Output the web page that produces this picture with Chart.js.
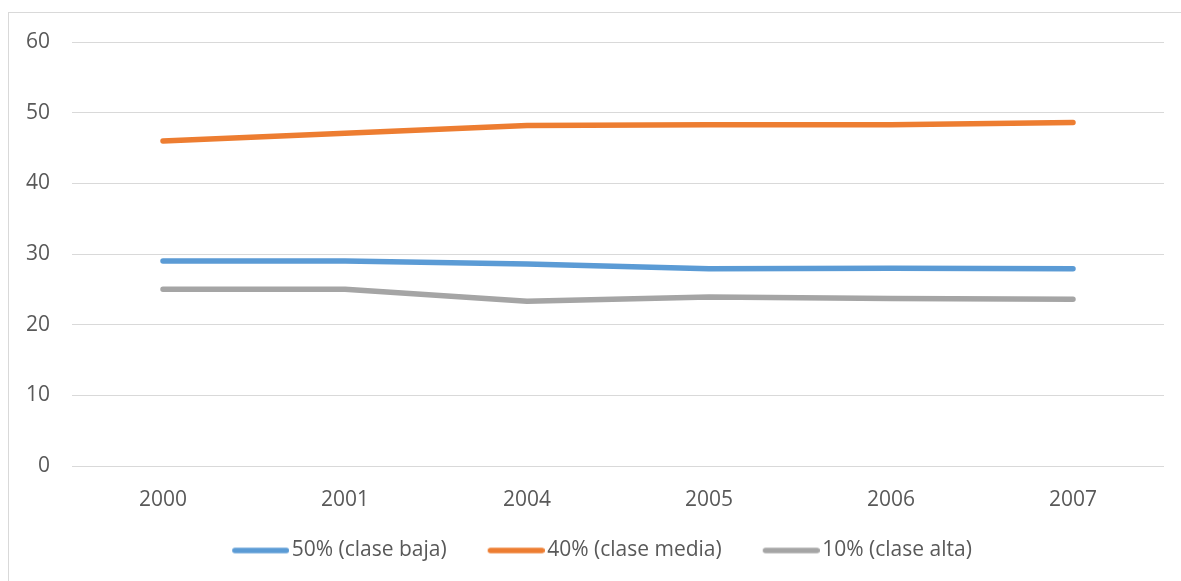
<!DOCTYPE html>
<html>
<head>
<meta charset="utf-8">
<script src="https://cdn.jsdelivr.net/npm/chart.js@4/dist/chart.umd.min.js"></script>
<style>
  html, body { margin: 0; padding: 0; background: #ffffff; overflow: hidden; }
  body { width: 1181px; height: 581px; position: relative; }
  #frame {
    position: absolute; left: 8px; top: 12px;
    width: 1200px; height: 575px;
    border: 1px solid #d9d9d9;
    background: #ffffff;
  }
  #chart { display: block; }
</style>
</head>
<body>
<div id="frame"><canvas id="chart" width="1200" height="575"></canvas></div>
<script>
// Años del eje horizontal
const years = ['2000', '2001', '2004', '2005', '2006', '2007'];

// Participación (%) de cada grupo de población
const claseBaja = [29.0, 29.0, 28.6, 27.9, 28.0, 27.9];
const claseMedia = [46.0, 47.1, 48.2, 48.3, 48.3, 48.6];
const claseAlta = [25.0, 25.0, 23.3, 23.9, 23.7, 23.6];

// Nombres de las series
const seriesNames = ['50% (clase baja)', '40% (clase media)', '10% (clase alta)'];

// Marcas del eje vertical
const yTicks = [0, 10, 20, 30, 40, 50, 60];

const colors = ['#5b9bd5', '#ed7d31', '#a5a5a5'];
const lineW = 5.5;
const fontSize = 21;
const fontFamily = '"Open Sans", "Noto Sans", sans-serif';
const textColor = '#595959';

// Legend symbol: a short rounded line sitting at the right end of a wider box,
// so that it leaves a gap after the previous entry and nearly touches its text
function swatch(color) {
  const c = document.createElement('canvas');
  c.width = 96; c.height = 8;
  const g = c.getContext('2d');
  g.strokeStyle = color;
  g.lineWidth = lineW;
  g.lineCap = 'round';
  g.beginPath();
  g.moveTo(39 + lineW / 2, 4);
  g.lineTo(96 - lineW / 2, 4);
  g.stroke();
  return c;
}
const swatches = colors.map(swatch);

const makeSet = (label, data, color) => ({
  label,
  data,
  borderColor: color,
  backgroundColor: color,
  borderWidth: lineW,
  borderCapStyle: 'round',
  borderJoinStyle: 'round',
  pointRadius: 0,
  pointHoverRadius: 0,
  tension: 0,
  fill: false
});

new Chart(document.getElementById('chart'), {
  type: 'line',
  data: {
    labels: years,
    datasets: [
      makeSet(seriesNames[0], claseBaja, colors[0]),
      makeSet(seriesNames[1], claseMedia, colors[1]),
      makeSet(seriesNames[2], claseAlta, colors[2])
    ]
  },
  options: {
    responsive: false,
    animation: false,
    layout: { padding: { top: 29, right: 45, bottom: 17, left: 0 } },
    plugins: {
      tooltip: { enabled: false },
      legend: {
        position: 'bottom',
        align: 'center',
        labels: {
          usePointStyle: true,
          pointStyleWidth: 80,
          padding: 10,
          color: textColor,
          font: { family: fontFamily, size: fontSize },
          generateLabels(chart) {
            return chart.data.datasets.map((ds, i) => ({
              text: ds.label,
              fontColor: textColor,
              fillStyle: ds.borderColor,
              strokeStyle: ds.borderColor,
              lineWidth: 0,
              pointStyle: swatches[i],
              hidden: false,
              datasetIndex: i
            }));
          }
        }
      }
    },
    scales: {
      x: {
        offset: true,
        grid: { display: false, drawTicks: false },
        border: { display: false },
        ticks: {
          color: textColor,
          padding: 21,
          maxRotation: 0,
          font: { family: fontFamily, size: fontSize }
        },
        afterFit(scale) { scale.height = 64; }
      },
      y: {
        min: 0,
        max: 60,
        afterBuildTicks(scale) { scale.ticks = yTicks.map(v => ({ value: v })); },
        grid: { color: '#d9d9d9', lineWidth: 1, drawTicks: false },
        border: { display: false },
        ticks: {
          color: textColor,
          padding: 22,
          font: { family: fontFamily, size: fontSize }
        },
        afterFit(scale) {
          scale.width = 63;
          scale.paddingTop = 0;
          scale.paddingBottom = 0;
        }
      }
    }
  }
});
</script>
</body>
</html>
